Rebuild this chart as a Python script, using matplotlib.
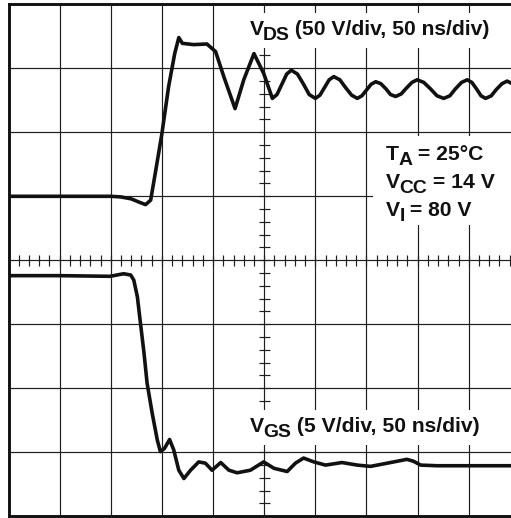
import matplotlib
matplotlib.use("Agg")
import matplotlib.pyplot as plt
from matplotlib.patches import Rectangle
import numpy as np

# ---- data (units: screen divisions; x: 50 ns/div, y: V/div) ----
vds_x = [0.0, 1.0, 2.0, 2.2, 2.4, 2.55, 2.68, 2.78, 2.87, 3.0, 3.13, 3.25, 3.33, 3.40,
         3.62, 3.88, 4.05, 4.21, 4.43, 4.60, 4.80, 4.99, 5.16,
         5.25, 5.345, 5.44, 5.53, 5.65, 5.77, 5.88, 6.00, 6.09, 6.18, 6.27, 6.36,
         6.48, 6.59, 6.71, 6.82, 6.91, 7.00, 7.09, 7.18, 7.28, 7.38, 7.47, 7.57,
         7.68, 7.78, 7.89, 7.99, 8.12, 8.25, 8.38, 8.51, 8.63, 8.74, 8.86, 8.97,
         9.06, 9.15, 9.24, 9.33, 9.44, 9.54, 9.65, 9.75, 9.90]
vds_y = [5.0, 5.0, 5.0, 4.99, 4.96, 4.91, 4.87, 4.94, 5.36, 5.98, 6.71, 7.23, 7.48, 7.39,
         7.37, 7.38, 7.26, 6.87, 6.37, 6.82, 7.23, 6.92, 6.53,
         6.59, 6.75, 6.91, 6.97, 6.91, 6.75, 6.59, 6.53, 6.58, 6.70, 6.82, 6.87,
         6.82, 6.70, 6.58, 6.53, 6.57, 6.66, 6.75, 6.79, 6.76, 6.68, 6.59, 6.56,
         6.60, 6.69, 6.78, 6.82, 6.78, 6.68, 6.57, 6.53, 6.57, 6.68, 6.78, 6.82,
         6.78, 6.68, 6.57, 6.53, 6.57, 6.67, 6.76, 6.80, 6.74]

vgs_x = [0.0, 1.0, 1.99, 2.25, 2.39, 2.45, 2.52, 2.58, 2.65, 2.71, 2.81, 2.91, 2.97,
         3.05, 3.15, 3.23, 3.33, 3.43, 3.56, 3.72, 3.85, 3.98, 4.15, 4.31, 4.47,
         4.73, 4.99, 5.19, 5.45, 5.61, 5.77, 5.97, 6.20, 6.52, 6.82, 7.08, 7.47,
         7.79, 7.92, 8.06, 8.38, 9.0, 9.90]
vgs_y = [3.76, 3.76, 3.75, 3.79, 3.77, 3.69, 3.43, 3.02, 2.55, 2.08, 1.61, 1.19, 1.01,
         1.06, 1.20, 1.04, 0.72, 0.59, 0.72, 0.85, 0.83, 0.72, 0.84, 0.72, 0.68,
         0.72, 0.85, 0.75, 0.70, 0.83, 0.91, 0.85, 0.80, 0.84, 0.80, 0.78, 0.84,
         0.89, 0.86, 0.80, 0.79, 0.79, 0.79]

vds_label = ("V", "DS", " (50 V/div, 50 ns/div)")
vgs_label = ("V", "GS", " (5 V/div, 50 ns/div)")
cond_lines = [("T", "A", " = 25\u00b0C"), ("V", "CC", " = 14 V"), ("V", "I", " = 80 V")]

W, H = 511, 518
fig = plt.figure(figsize=(W / 100, H / 100), dpi=100)
div_w = 51.14
div_h = 64.0
left_px, bottom_px = 8.5, 1.7
ax = fig.add_axes([left_px / W, bottom_px / H, 10 * div_w / W, 8 * div_h / H])
ax.set_xlim(0, 10)
ax.set_ylim(0, 8)

gc = "#1e1e1e"
ax.set_xticks(np.arange(1, 10))
ax.set_yticks(np.arange(1, 8))
ax.grid(True, color=gc, linewidth=0.85)
ax.tick_params(length=0, labelbottom=False, labelleft=False)
for s in ["left", "top", "bottom"]:
    ax.spines[s].set_linewidth(2.1)
    ax.spines[s].set_color("#111111")
ax.spines["right"].set_visible(False)

# minor ticks on the centre lines
tx = 5.5 / div_w
ty = 5.5 / div_h
xs = np.arange(0.2, 10, 0.2)
ys = np.arange(0.2, 8, 0.2)
ax.vlines(xs, 4 - ty, 4 + ty, color=gc, linewidth=0.85, zorder=1)
ax.hlines(ys, 5 - tx, 5 + tx, color=gc, linewidth=0.85, zorder=1)

# white boxes behind labels
def box(x0, x1, y0, y1):
    ax.add_patch(Rectangle((x0, y0), x1 - x0, y1 - y0, facecolor="white",
                           edgecolor="none", zorder=2))

box(4.70, 9.75, 7.32, 7.86)
box(7.12, 10.2, 4.55, 5.94)
box(4.68, 9.70, 1.12, 1.66)

FS = 15.2
fp = dict(family="Liberation Sans", fontweight="bold", color="#111111",
          zorder=3, va="baseline", ha="left")

def label(x, y, parts):
    main, sub, rest = parts
    t1 = ax.text(x, y, main, fontsize=FS, **fp)
    t2 = ax.annotate(sub, xy=(1, y), xycoords=(t1, "data"), xytext=(-0.4, -3.6),
                     textcoords="offset points", fontsize=FS * 0.92, **fp)
    ax.annotate(rest, xy=(1, y), xycoords=(t2, "data"), xytext=(-0.3, 0),
                textcoords="offset points", fontsize=FS, **fp)

label(4.71, 7.52, vds_label)
label(4.72, 1.32, vgs_label)
for parts, yy in zip(cond_lines, [5.56, 5.13, 4.69]):
    label(7.38, yy, parts)

lc = "#111111"
ax.plot(vds_x, vds_y, color=lc, linewidth=2.6, solid_joinstyle="round",
        solid_capstyle="round", zorder=4)
ax.plot(vgs_x, vgs_y, color=lc, linewidth=2.6, solid_joinstyle="round",
        solid_capstyle="round", zorder=4)

fig.savefig("out.png", dpi=100)
